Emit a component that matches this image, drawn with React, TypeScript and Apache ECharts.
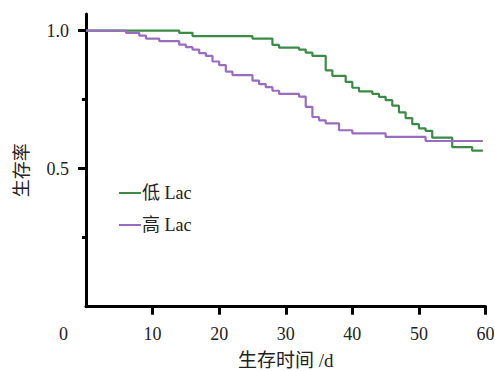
import React, { useEffect, useRef } from "react";
import * as echarts from "echarts";

const lowTimes = [0, 14, 16, 25, 28, 29, 32, 33, 34, 36, 37, 39, 40, 41, 43, 44, 45, 46, 47, 48, 49, 50, 51, 52, 55, 58, 59.6];
const lowSurv = [1, 0.992, 0.98, 0.971, 0.948, 0.938, 0.931, 0.92, 0.908, 0.856, 0.836, 0.814, 0.793, 0.78, 0.771, 0.76, 0.748, 0.728, 0.704, 0.683, 0.661, 0.646, 0.637, 0.612, 0.578, 0.565, 0.565];
const highTimes = [0, 6, 8, 9, 11, 14, 15, 16, 17, 18, 19, 20, 21, 22, 25, 26, 27, 28, 29, 32, 33, 34, 35, 36, 38, 40, 45, 51, 59.6];
const highSurv = [1, 0.992, 0.982, 0.971, 0.962, 0.949, 0.94, 0.931, 0.918, 0.908, 0.888, 0.875, 0.851, 0.839, 0.819, 0.806, 0.795, 0.782, 0.771, 0.761, 0.724, 0.687, 0.675, 0.664, 0.639, 0.628, 0.615, 0.6, 0.6];
const seriesNames = ["低 Lac", "高 Lac"];
const xTicks = [10, 20, 30, 40, 50, 60];
const yMajorTicks = [0.5, 1.0];
const yMinorTicks = [0.25, 0.75];

const SERIF = '"Liberation Serif", "Noto Sans CJK SC", serif';
const TXT = "#222";

export default function App() {
  const ref = useRef<HTMLDivElement>(null);
  useEffect(() => {
    if (!ref.current) return;
    const chart = echarts.init(ref.current, null, { renderer: "svg" });
    const toPairs = (t: number[], s: number[]) => t.map((v, i) => [v, s[i]]);
    chart.setOption({
      animation: false,
      grid: { left: 86, right: 9.5, top: 14, bottom: 64.3, outerBoundsMode: "none", containLabel: false },
      legend: {
        orient: "vertical",
        left: 119,
        top: 184,
        padding: 0,
        icon: "rect",
        itemWidth: 22,
        itemHeight: 2,
        itemGap: 14,
        textStyle: { fontFamily: SERIF, fontSize: 18, color: TXT, lineHeight: 18, padding: [0, 0, 0, -4] },
        data: seriesNames,
      },
      xAxis: {
        type: "value",
        min: 0,
        max: 60,
        interval: 10,
        splitLine: { show: false },
        axisLine: { lineStyle: { color: "#000", width: 3 } },
        axisTick: { customValues: xTicks, length: 8, lineStyle: { color: "#000", width: 3 } },
        axisLabel: { customValues: xTicks, margin: 18, fontFamily: SERIF, fontSize: 18, color: TXT },
        name: "生存时间 /d",
        nameLocation: "middle",
        nameGap: 44,
        nameTextStyle: { fontFamily: SERIF, fontSize: 19, color: TXT },
      },
      yAxis: [
        {
          type: "value",
          min: 0,
          max: 1.06,
          splitLine: { show: false },
          axisLine: { show: true, lineStyle: { color: "#000", width: 3 } },
          axisTick: { customValues: yMajorTicks, length: 8, lineStyle: { color: "#000", width: 3 } },
          axisLabel: {
            customValues: yMajorTicks,
            margin: 17,
            fontFamily: SERIF,
            fontSize: 18,
            color: TXT,
            formatter: (v: number) => v.toFixed(1),
          },
          name: "生存率",
          nameLocation: "middle",
          nameGap: 55,
          nameTextStyle: { fontFamily: SERIF, fontSize: 18, color: TXT, padding: [0, 20, 0, 0] },
        },
        {
          type: "value",
          min: 0,
          max: 1.06,
          position: "left",
          splitLine: { show: false },
          axisLine: { show: false },
          axisTick: { show: true, customValues: yMinorTicks, length: 4, lineStyle: { color: "#000", width: 3 } },
          axisLabel: { show: false },
        },
      ],
      graphic: [
        {
          type: "text",
          left: 59,
          top: 325,
          style: { text: "0", fontFamily: SERIF, fontSize: 18, fill: TXT },
        },
      ],
      series: [
        {
          name: seriesNames[0],
          type: "line",
          step: "end",
          symbol: "none",
          data: toPairs(lowTimes, lowSurv),
          lineStyle: { color: "#3b8a46", width: 2.2 },
          itemStyle: { color: "#3b8a46" },
        },
        {
          name: seriesNames[1],
          type: "line",
          step: "end",
          symbol: "none",
          data: toPairs(highTimes, highSurv),
          lineStyle: { color: "#9a6cbf", width: 2.2 },
          itemStyle: { color: "#9a6cbf" },
        },
      ],
    });
    return () => chart.dispose();
  }, []);
  return <div ref={ref} style={{ width: 495, height: 371, position: "absolute", left: 0, top: 0 }} />;
}
